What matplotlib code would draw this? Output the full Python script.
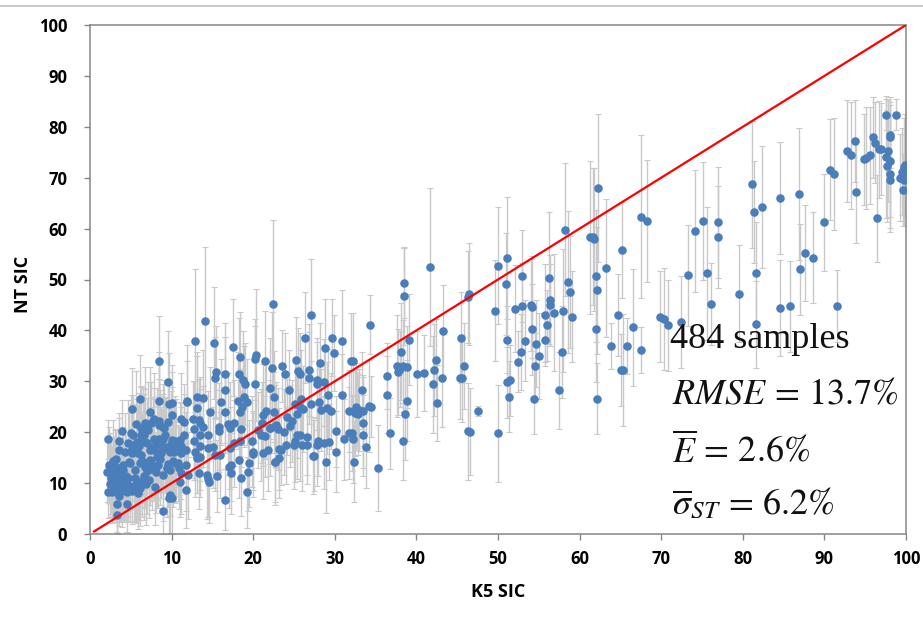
import matplotlib
matplotlib.use("Agg")
import matplotlib.pyplot as plt
from matplotlib.lines import Line2D

plt.rcParams['mathtext.fontset'] = 'stix'

x_low = [
 2.2,3.9,3.6,3.5,3.2,2.3,2.9,2.1,2.9,2.2,
 2.7,3.3,3.3,3.6,3.1,2.7,3.5,4.1,4.1,4.9,
 4.3,3.9,4.5,4.5,4.9,5.5,5.5,6.1,6.6,6.1,
 5.9,6.9,8.0,8.1,9.0,9.4,8.9,9.8,9.7,10.1,
 8.4,9.5,6.1,5.2,8.4,9.7,10.0,7.3,10.1,7.5,
 8.4,8.9,5.3,6.2,6.6,7.8,8.4,9.2,9.0,5.3,
 4.3,5.0,7.0,5.9,6.2,7.4,7.4,7.5,8.2,8.8,
 8.6,9.8,10.4,11.0,11.5,10.3,11.2,11.8,11.2,10.4,
 10.8,11.8,11.1,12.0,11.0,11.8,9.8,2.4,2.6,2.8,
 3.0,3.1,3.2,3.4,3.6,3.7,3.8,4.0,4.2,4.4,
 4.6,4.7,4.8,5.0,5.1,5.3,5.4,5.6,5.7,5.8,
 6.0,6.3,6.4,6.5,6.7,6.8,7.0,7.1,7.2,7.6,
 7.7,7.9,8.3,8.5,8.7,9.1,9.3,9.6,9.9,10.2,
 2.5,2.8,3.0,3.4,3.8,4.6,5.2,5.6,6.0,6.4,
 6.8,7.2,7.8,8.2,8.6,9.2,9.6,10.0,10.5,10.9,
]
y_low = [
 18.6,20.3,18.2,16.6,14.7,13.5,13.6,12.2,11.6,8.2,
 8.3,5.9,3.8,7.5,9.7,10.3,10.6,13.5,12.6,13.9,
 10.3,9.3,8.3,5.9,9.3,11.0,12.6,13.9,11.3,9.0,
 8.0,9.8,9.3,12.1,11.6,12.9,4.6,7.7,7.0,7.0,
 33.9,29.9,26.6,24.6,26.2,25.6,25.8,23.9,23.4,21.8,
 21.4,21.0,19.4,19.5,19.5,18.6,18.6,19.5,18.6,17.4,
 16.2,16.3,17.8,15.9,15.5,16.5,14.6,13.9,15.2,16.5,
 14.7,16.2,18.2,18.5,19.5,16.2,17.2,16.5,15.9,14.0,
 14.0,13.5,12.0,11.5,10.3,8.7,12.6,9.8,11.0,10.2,
 9.2,12.4,8.9,10.9,12.0,9.0,11.2,10.0,8.8,11.4,
 9.6,17.8,14.2,19.8,8.4,17.2,9.4,21.6,8.6,18.0,
 10.2,20.8,14.4,18.2,13.2,21.8,12.4,20.4,10.6,12.8,
 17.0,22.6,13.6,22.2,16.0,20.8,16.8,22.0,17.6,14.4,
 12.8,14.4,9.6,13.0,8.4,11.0,16.0,9.6,17.2,10.4,
 18.0,14.2,16.6,17.6,18.2,17.0,13.8,18.4,17.0,13.0,
]
err_low = [
 3.8,6.0,5.5,6.2,6.0,7.5,5.5,6.0,7.0,5.0,
 6.2,5.5,3.8,6.0,6.5,7.0,8.0,6.5,8.5,7.0,
 7.5,8.0,6.0,5.5,7.0,8.5,7.0,10.0,8.5,7.5,
 7.0,8.0,7.5,8.0,9.0,9.5,4.6,7.5,7.0,7.0,
 9.0,10.0,8.5,8.0,9.5,10.0,7.5,9.0,8.5,8.0,
 9.0,8.5,8.0,9.5,8.0,10.0,8.5,7.5,9.0,8.0,
 7.5,8.5,9.0,9.5,8.0,8.5,9.0,7.5,10.0,8.0,
 9.0,8.5,9.0,7.5,8.0,10.0,8.5,7.5,9.0,8.0,
 7.5,9.0,8.0,8.5,7.0,7.5,9.0,6.5,7.0,7.5,
 6.5,8.0,6.5,7.0,8.5,6.5,7.5,7.0,6.5,8.0,
 7.0,8.5,9.5,7.5,6.5,8.0,7.0,10.5,6.5,8.5,
 7.5,8.0,9.0,10.5,8.0,11.0,8.5,9.5,7.5,8.0,
 10.0,9.0,8.5,11.0,9.0,9.5,10.0,8.5,10.5,9.0,
 7.0,8.0,6.5,7.5,6.0,7.5,9.5,7.0,10.5,7.0,
 10.5,8.5,10.0,11.0,10.0,9.0,8.5,10.5,9.5,8.0,
]

x_mid_left = [
 12.9,14.1,15.2,17.5,18.4,20.4,20.2,21.5,22.4,22.3,
 15.5,15.3,16.5,18.2,18.8,19.0,20.2,22.0,16.6,13.1,
 13.8,11.9,11.9,16.1,18.1,18.9,19.2,22.6,18.6,13.1,
 16.6,14.7,18.4,21.6,21.2,22.6,12.6,11.2,13.3,11.5,
 13.5,13.9,12.7,15.8,15.8,16.9,17.6,17.2,18.5,21.1,
 22.1,22.7,14.4,13.5,12.7,21.0,21.4,17.6,18.4,19.8,
 17.2,13.5,14.5,15.1,12.9,13.5,13.1,20.0,20.0,21.8,
 21.2,23.2,15.9,15.3,18.2,22.7,19.5,17.3,17.0,19.4,
 13.4,14.3,14.5,14.6,15.6,17.3,18.5,19.3,16.6,20.6,
]
y_mid_left = [
 38.0,41.9,37.5,36.7,34.7,35.2,34.3,33.9,45.1,32.7,
 31.9,30.7,31.5,31.5,30.3,29.5,29.4,28.6,28.3,27.0,
 26.7,26.2,25.9,25.9,26.2,27.0,25.9,27.0,25.0,24.7,
 23.9,23.9,23.9,24.2,23.4,23.9,22.6,22.6,22.4,22.0,
 21.9,21.1,20.6,21.1,20.2,21.6,21.8,20.8,20.6,21.9,
 20.8,21.2,19.5,19.5,18.2,19.5,19.2,17.8,18.2,18.2,
 16.9,17.2,16.9,17.0,16.2,15.2,15.0,16.2,15.7,16.5,
 15.9,16.7,15.5,15.5,14.6,14.2,13.9,13.5,13.1,12.1,
 11.9,11.5,10.8,10.2,11.4,11.9,11.0,8.2,6.7,20.4,
]
err_mid_left = [
 14.0,14.5,11.0,9.5,9.0,13.0,8.0,10.0,16.5,11.0,
 9.0,8.0,10.0,11.0,9.5,8.0,11.5,10.0,10.5,8.0,
 9.5,11.0,8.0,8.5,9.5,10.0,8.5,9.0,7.5,11.0,
 8.0,9.0,8.5,9.5,10.0,8.0,7.5,9.0,8.0,7.5,
 9.0,8.0,9.5,8.5,8.0,10.0,8.5,9.0,7.5,8.0,
 9.5,8.0,8.5,9.0,7.5,9.0,8.0,8.5,7.0,9.0,
 8.0,8.5,7.5,8.0,9.0,8.0,7.0,7.5,8.5,8.0,
 9.0,8.0,8.5,7.0,7.5,8.0,8.5,7.0,8.0,7.5,
 7.0,8.5,7.5,8.0,7.0,8.0,7.5,7.0,6.0,7.5,
]

x_mid = [
 27.1,34.3,38.5,38.5,43.2,26.4,29.7,30.9,28.8,29.9,
 25.2,32.0,32.2,28.2,23.5,26.8,25.5,25.7,23.9,26.8,
 27.8,27.8,28.7,24.4,33.3,29.2,30.9,25.8,28.1,27.1,
 25.1,25.7,26.1,28.3,29.0,29.5,31.7,32.6,32.7,32.8,
 33.5,34.4,25.4,24.2,24.8,33.5,22.8,22.1,23.1,30.2,
 31.7,32.1,33.4,25.4,25.7,26.6,25.1,27.9,28.7,29.3,
 31.1,32.2,24.0,25.0,26.0,26.6,27.8,33.8,23.4,30.1,
 27.3,27.5,23.2,22.7,28.9,32.3,35.3,38.3,36.8,38.6,
 38.9,36.4,36.4,37.6,38.3,37.8,38.1,39.1,40.1,42.4,
 42.1,42.0,43.1,42.5,45.5,45.8,45.3,45.6,46.3,46.3,
 46.4,41.7,40.9,38.8,38.0,34.2,33.0,32.5,24.5,23.8,
]
y_mid = [
 43.1,41.1,49.4,46.7,39.9,38.6,38.6,37.9,36.6,35.5,
 34.2,33.9,33.9,33.5,33.0,32.2,32.0,31.4,31.4,30.6,
 30.3,29.5,29.8,28.2,28.2,27.4,27.4,26.6,25.9,25.5,
 25.5,25.0,24.6,24.4,24.7,24.2,24.2,25.0,24.4,23.5,
 24.2,25.0,23.5,23.0,22.2,21.9,21.4,20.8,20.6,20.2,
 19.8,19.8,19.4,19.4,19.4,19.0,18.2,18.3,17.9,18.1,
 18.6,18.6,17.4,17.4,17.4,17.4,17.4,17.0,16.6,16.2,
 15.4,15.4,15.0,14.2,14.2,14.2,13.0,18.2,19.8,23.5,
 26.2,27.4,31.0,33.0,33.0,31.8,35.8,38.2,31.4,34.2,
 32.2,29.4,30.6,25.8,38.6,33.0,30.6,30.6,20.2,46.6,
 47.1,52.4,31.6,32.8,32.4,25.2,24.4,23.8,21.2,20.0,
]
err_mid = [
 11.0,5.8,7.0,9.5,9.0,9.0,7.5,10.0,9.5,7.5,
 8.5,9.5,9.5,8.0,7.0,9.0,8.5,8.0,8.0,9.0,
 7.5,9.0,8.5,8.0,7.5,9.0,8.0,9.5,8.0,8.5,
 9.0,8.0,8.5,8.0,9.0,7.5,8.0,8.5,7.5,8.0,
 7.0,6.0,8.5,7.5,8.0,9.0,8.5,7.0,8.0,7.0,
 9.0,7.5,8.0,8.5,9.0,7.5,8.0,7.0,9.0,7.5,
 8.0,8.5,7.5,8.5,9.0,7.5,8.0,8.0,7.0,8.0,
 7.5,7.0,8.0,8.5,10.0,8.0,8.5,7.5,7.0,9.0,
 8.0,7.5,6.5,10.0,9.0,8.5,9.5,9.0,8.5,8.0,
 9.0,9.5,9.5,7.5,9.0,8.5,8.0,8.5,9.5,9.0,
 10.0,15.5,7.5,8.0,7.5,9.0,8.0,8.5,8.0,8.5,
]

x_upper = [
 50.0,51.1,51.0,49.6,52.9,52.1,52.9,54.0,54.2,56.2,
 56.4,56.4,55.8,56.9,58.6,58.8,58.2,58.0,59.1,61.3,
 61.8,62.0,62.1,62.0,63.2,65.2,67.5,68.2,64.7,66.6,
 63.9,65.8,67.5,65.1,65.3,62.1,69.8,70.4,70.8,54.2,
 56.0,55.7,51.1,54.6,55.0,52.8,52.5,54.5,57.9,51.1,
 51.5,51.4,54.4,57.5,47.5,50.0,46.6,62.3,61.6,53.3,
]
y_upper = [
 52.7,54.3,49.1,43.9,50.7,44.3,44.7,45.0,44.6,50.3,
 45.9,45.0,43.1,43.5,49.5,47.5,59.8,43.9,42.7,58.3,
 57.9,50.7,47.9,40.3,52.3,55.8,62.3,61.5,43.0,40.6,
 37.0,37.0,36.2,32.2,32.2,26.6,42.7,42.2,41.0,40.2,
 41.0,38.2,38.2,37.4,35.0,35.8,33.8,33.0,35.8,29.8,
 30.2,27.0,26.6,28.2,24.2,19.8,20.1,68.0,58.4,38.0,
]
err_upper = [
 11.5,12.0,10.0,10.0,9.0,8.5,8.5,9.0,10.0,13.0,
 9.0,8.0,10.0,11.5,14.0,11.0,13.0,12.0,9.0,15.0,
 14.0,13.0,12.5,10.5,13.5,9.5,16.0,12.0,8.0,11.5,
 4.5,5.5,4.5,7.0,11.0,7.0,9.0,10.0,9.0,9.0,
 7.0,4.5,6.5,8.5,8.5,7.5,6.0,6.5,9.0,7.0,
 7.0,7.0,7.0,7.5,1.0,9.5,8.5,14.5,13.5,8.0,
]

x_high = [
 81.1,81.4,82.3,84.5,86.9,89.9,90.7,91.2,87.6,88.6,
 87.0,92.8,93.2,93.8,93.9,94.8,95.1,95.6,96.0,96.2,
 96.5,96.7,96.9,97.6,97.8,97.6,98.1,97.7,98.1,98.0,
 98.1,98.1,98.8,99.3,99.6,99.5,99.9,99.7,99.9,99.8,
 84.5,85.8,91.5,81.6,81.6,79.5,77.0,77.0,74.2,75.1,
 75.6,73.3,76.1,72.4,
]
y_high = [
 68.7,63.2,64.3,66.0,66.8,61.2,71.6,70.8,55.2,54.3,
 52.0,75.2,74.4,77.2,67.2,73.6,73.9,74.4,77.9,76.9,
 62.0,75.6,75.6,82.4,75.2,74.0,73.2,72.3,78.4,77.9,
 70.8,69.6,82.4,70.0,67.6,71.2,72.5,72.2,71.2,69.6,
 44.4,44.7,44.8,51.2,41.2,47.2,61.2,58.4,59.6,61.5,
 51.2,50.8,45.2,41.6,
]
err_high = [
 12.5,10.0,12.0,11.0,13.0,9.5,10.0,11.0,9.5,9.0,
 9.0,10.0,10.5,8.0,10.0,9.0,10.0,9.5,8.0,8.0,
 8.5,9.5,9.0,3.0,10.0,12.0,11.0,11.0,6.5,8.0,
 11.5,9.5,3.0,8.5,7.0,8.5,10.0,9.5,8.5,9.0,
 9.5,9.0,7.0,10.0,8.5,9.5,11.0,10.0,12.0,11.5,
 13.0,10.0,8.0,9.0,
]

K5_SIC = x_low + x_mid_left + x_mid + x_upper + x_high
NT_SIC = y_low + y_mid_left + y_mid + y_upper + y_high
sigma = err_low + err_mid_left + err_mid + err_upper + err_high

one_to_one_x = [0.5, 100]
one_to_one_y = [0.5, 100]
ticks = list(range(0, 101, 10))

fig = plt.figure(figsize=(9.23, 6.19), dpi=100)
ax = fig.add_axes([90/923, 1-534/619, 816/923, 509/619])
ax.set_xlim(0, 100)
ax.set_ylim(0, 100)

ax.errorbar(K5_SIC, NT_SIC, yerr=sigma, fmt='none', ecolor='#c9c9c9',
            elinewidth=1.0, capsize=2.2, capthick=0.8, zorder=2, clip_on=True)
ax.scatter(K5_SIC, NT_SIC, s=38, color='#4a7ebb', linewidths=0, zorder=3)
ax.plot(one_to_one_x, one_to_one_y, color='#ff0000', lw=1.6, zorder=4)

ax.set_xticks(ticks)
ax.set_yticks(ticks)
for lbl in ax.get_xticklabels() + ax.get_yticklabels():
    lbl.set_fontfamily('Open Sans')
    lbl.set_fontweight('bold')
    lbl.set_fontsize(12)
    lbl.set_color('#000000')
ax.tick_params(axis='both', length=4.3, width=1.0, color='#868686')
ax.tick_params(axis='y', pad=12)
ax.tick_params(axis='x', pad=7)
for s in ax.spines.values():
    s.set_color('#868686')
    s.set_linewidth(1.1)

fig.text(498/923, 1-592/619, 'K5 SIC', ha='center', va='center',
         fontfamily='Open Sans', fontweight='bold', fontsize=13, color='#000000')
fig.text(23/923, 1-284/619, 'NT SIC', ha='center', va='center', rotation=90,
         fontfamily='Open Sans', fontweight='bold', fontsize=13, color='#000000')

sty = dict(ha='left', va='baseline', fontsize=26, color='#111111',
           fontfamily='Liberation Serif')
fig.text(670/923, 1-348/619, '484 samples', **sty)
fig.text(672/923, 1-403/619, r'$\mathit{RMSE}\,=\,\mathrm{13.7\%}$', **sty)
fig.text(672/923, 1-461/619, r'$\overline{E}\,=\,\mathrm{2.6\%}$', **sty)
fig.text(672/923, 1-514/619, r'$\overline{\sigma}_{ST}\,=\,\mathrm{6.2\%}$', **sty)

fig.add_artist(Line2D([0, 1], [1-6/619, 1-6/619], color='#bfbfbf', lw=1.2,
                      transform=fig.transFigure))

fig.savefig('out.png', dpi=100)
